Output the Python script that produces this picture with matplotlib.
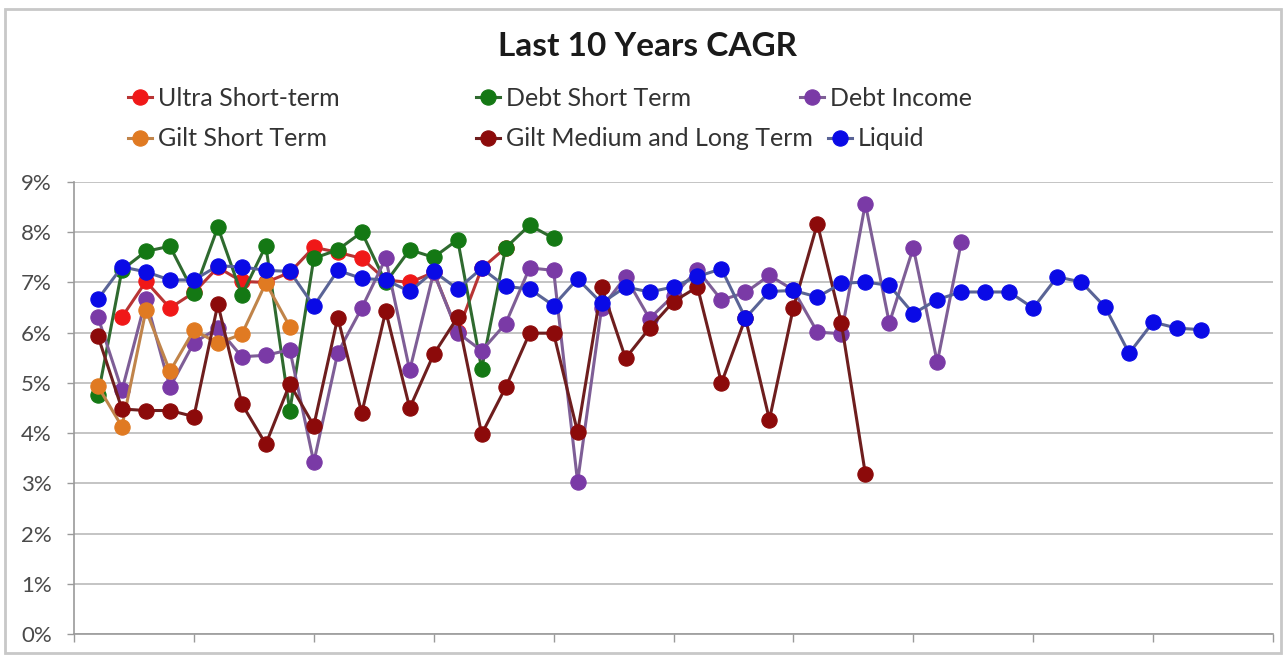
import numpy as np
import matplotlib
matplotlib.use("Agg")
import matplotlib.pyplot as plt
from matplotlib.patches import Rectangle

nan = np.nan

# ---- data (CAGR %, one value per fund position) ----
ultra_short = [nan, 6.31, 7.02, 6.49, 6.80, 7.30, 7.02, 7.00, 7.20, 7.70,
               7.60, 7.48, 7.05, 7.00, 7.20, 6.02, 7.28, 7.69]
debt_short = [4.75, 7.25, 7.62, 7.72, 6.79, 8.10, 6.75, 7.73, 4.44, 7.48,
              7.65, 8.00, 7.00, 7.65, 7.50, 7.85, 5.28, 7.69, 8.14, 7.88]
debt_income = [6.31, 4.85, 6.67, 4.91, 5.80, 6.09, 5.52, 5.55, 5.66, 3.42,
               5.60, 6.49, 7.48, 5.25, 7.20, 6.00, 5.64, 6.18, 7.29, 7.24,
               3.03, 6.49, 7.11, 6.28, 6.74, 7.25, 6.65, 6.80, 7.14, 6.85,
               6.01, 5.98, 8.57, 6.19, 7.69, 5.41, 7.80]
gilt_short = [4.93, 4.13, 6.45, 5.23, 6.05, 5.79, 5.97, 6.99, 6.12]
gilt_med_long = [5.93, 4.48, 4.45, 4.45, 4.33, 6.57, 4.58, 3.78, 4.98, 4.15,
                 6.30, 4.40, 6.43, 4.50, 5.57, 6.31, 3.98, 4.91, 5.99, 5.99,
                 4.02, 6.91, 5.49, 6.09, 6.62, 6.91, 5.00, 6.29, 4.27, 6.50,
                 8.17, 6.19, 3.19]
liquid = [6.67, 7.31, 7.21, 7.05, 7.05, 7.33, 7.31, 7.24, 7.22, 6.53,
          7.24, 7.08, 7.05, 6.82, 7.22, 6.87, 7.28, 6.92, 6.87, 6.54,
          7.07, 6.59, 6.91, 6.81, 6.91, 7.12, 7.27, 6.29, 6.82, 6.84,
          6.71, 6.98, 7.01, 6.94, 6.38, 6.66, 6.81, 6.81, 6.81, 6.49,
          7.11, 7.01, 6.51, 5.59, 6.21, 6.09, 6.06]

series_names = ["Ultra Short-term", "Debt Short Term", "Debt Income",
                "Gilt Short Term", "Gilt Medium and Long Term", "Liquid"]
series_values = [ultra_short, debt_short, debt_income,
                 gilt_short, gilt_med_long, liquid]
y_ticks = [0, 1, 2, 3, 4, 5, 6, 7, 8, 9]
y_tick_labels = [f"{v}%" for v in y_ticks]
title = "Last 10 Years CAGR"

# ---- styles ----
marker_colors = ["#f01818", "#147814", "#7a3aa6", "#e07a22", "#8c0a0a", "#0a0ae6"]
line_colors = ["#b83434", "#2f6a2f", "#7e5e96", "#c0844a", "#6e1e1e", "#5a6496"]

W, H = 1286, 656
plt.rcParams["font.family"] = ["Lato", "DejaVu Sans"]
fig = plt.figure(figsize=(W / 100, H / 100), dpi=100)
fig.patch.set_facecolor("white")

# chart border
fig.add_artist(Rectangle((5 / W, 1 - 653 / H), (1281 - 5) / W, (653 - 9) / H,
                         transform=fig.transFigure, fill=False,
                         edgecolor="#c8c8c8", linewidth=2))

ax = fig.add_axes([74 / W, 1 - 634 / H, (1273 - 74) / W, (634 - 182) / H])

for name, vals, mc, lc in zip(series_names, series_values, marker_colors, line_colors):
    x = np.arange(1, len(vals) + 1)
    ax.plot(x, vals, color=lc, linewidth=2.2, marker="o", markersize=11,
            markerfacecolor=mc, markeredgecolor=mc, markeredgewidth=0.8,
            label=name, zorder=3)

ax.set_xlim(0, 50)
ax.set_ylim(0, 9)
ax.set_yticks(y_ticks)
ax.set_yticklabels(y_tick_labels)
ax.set_xticks(np.arange(0, 51, 5))
ax.set_xticklabels([])
ax.tick_params(axis="y", length=5, width=1, color="#9a9a9a", labelsize=16,
               labelcolor="#4a4a4a", pad=11, direction="out")
ax.tick_params(axis="x", length=6, width=1, color="#9a9a9a", direction="out")
ax.grid(axis="y", color="#c4c4c4", linewidth=1.4, zorder=0)
ax.set_axisbelow(True)
for s in ["top", "right"]:
    ax.spines[s].set_visible(False)
ax.spines["left"].set_color("#9a9a9a")
ax.spines["bottom"].set_color("#9a9a9a")
ax.spines["left"].set_linewidth(1.2)
ax.spines["bottom"].set_linewidth(1.2)

fig.text(647 / W, 1 - 46 / H, title, ha="center", va="center",
         fontsize=24, fontweight="bold", color="#1a1a1a")

# legend entries (Excel-like layout: 3 per row)
legend_pos = [(128, 98), (476, 98), (800, 98),
              (128, 139), (476, 139), (828, 139)]
handles, labels = ax.get_legend_handles_labels()
for h, lab, (px, py) in zip(handles, labels, legend_pos):
    leg = fig.legend([h], [lab], loc="center left",
                     bbox_to_anchor=(px / W, 1 - py / H),
                     bbox_transform=fig.transFigure, frameon=False,
                     fontsize=18, handlelength=0.95, handletextpad=0.25,
                     borderpad=0, borderaxespad=0, labelcolor="#333333")

fig.savefig("out.png", dpi=100, facecolor="white")
